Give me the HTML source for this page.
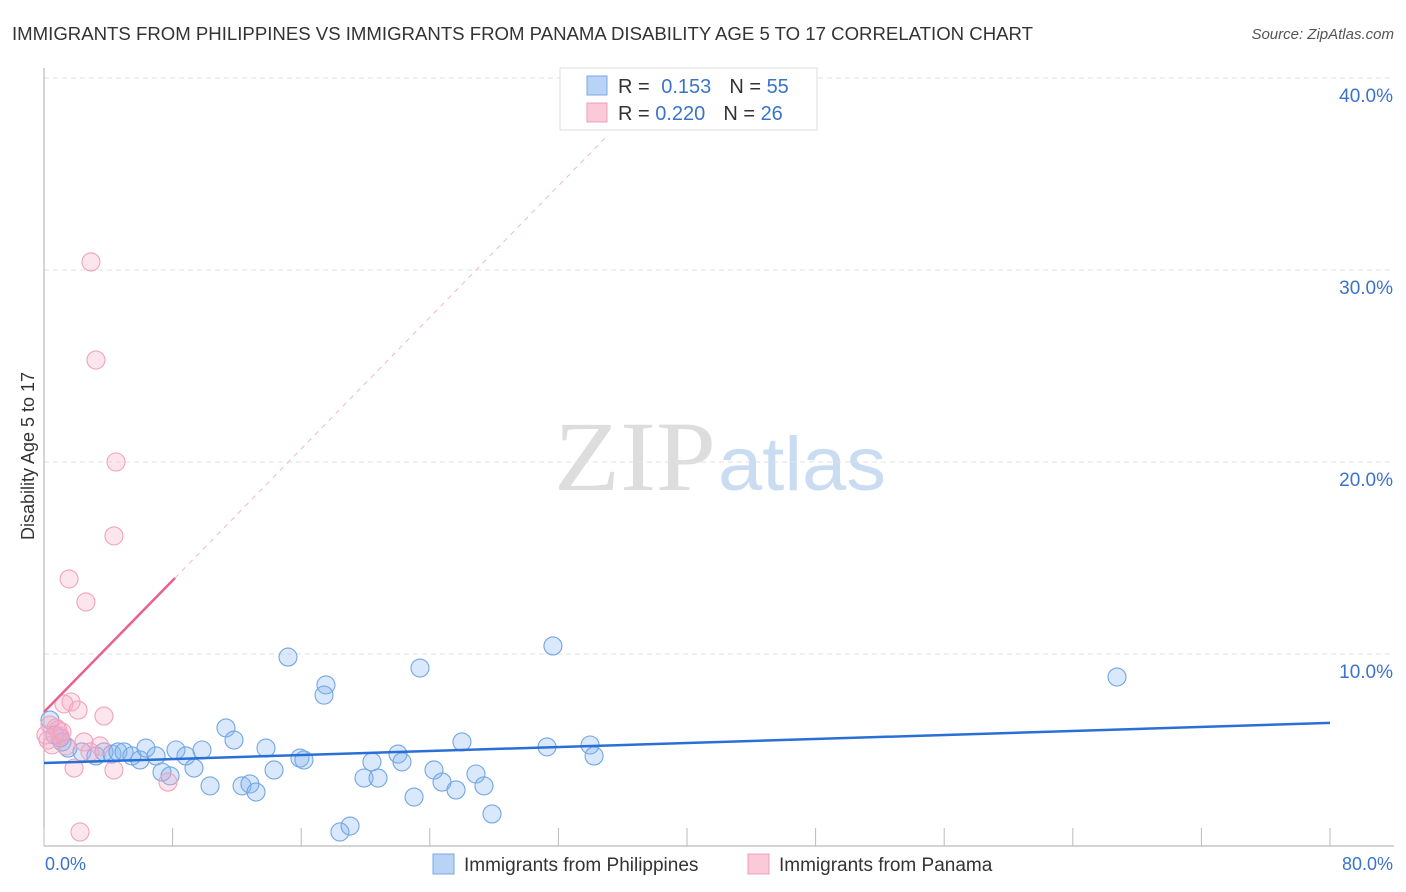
<!DOCTYPE html>
<html><head><meta charset="utf-8"><style>
body{margin:0;background:#fff;font-family:"Liberation Sans",sans-serif}
svg{display:block}
</style></head><body>
<svg width="1406" height="892" id="chart">
<text x="12" y="40" font-size="18" fill="#333" textLength="1021" lengthAdjust="spacingAndGlyphs">IMMIGRANTS FROM PHILIPPINES VS IMMIGRANTS FROM PANAMA DISABILITY AGE 5 TO 17 CORRELATION CHART</text>
<text x="1394" y="39" font-size="15" fill="#555" font-style="italic" text-anchor="end">Source: ZipAtlas.com</text>
<text x="716" y="490" font-size="100" fill="#ddd" font-family="Liberation Serif,serif" text-anchor="end" textLength="162" lengthAdjust="spacingAndGlyphs">ZIP</text>
<text x="718" y="490" font-size="76" fill="#c9dcf2" textLength="168" lengthAdjust="spacingAndGlyphs">atlas</text>
<text transform="translate(34,456) rotate(-90)" font-size="18" fill="#333" text-anchor="middle">Disability Age 5 to 17</text>
<g id="axes"></g>
<g id="marks"></g>
<g>
<rect x="560" y="68" width="257" height="62" fill="#fff" stroke="#ddd"/>
<rect x="587" y="76" width="20" height="19" fill="#b8d3f5" stroke="#7aa8e6"/>
<rect x="587" y="103" width="20" height="19" fill="#fbc9d8" stroke="#eda0b8"/>
<text x="618" y="93" font-size="20" fill="#333">R = <tspan fill="#3b73cc" dx="6">0.153</tspan><tspan dx="18" fill="#333">N = </tspan><tspan fill="#3b73cc">55</tspan></text>
<text x="618" y="120" font-size="20" fill="#333">R = <tspan fill="#3b73cc">0.220</tspan><tspan dx="18" fill="#333">N = </tspan><tspan fill="#3b73cc">26</tspan></text>
</g>
<g>
<rect x="433" y="854" width="21" height="20" fill="#b8d3f5" stroke="#7aa8e6"/>
<text x="464" y="871" font-size="19" fill="#333">Immigrants from Philippines</text>
<rect x="748" y="854" width="21" height="20" fill="#fbc9d8" stroke="#eda0b8"/>
<text x="779" y="871" font-size="19" fill="#333">Immigrants from Panama</text>
</g>
</svg>
<script>
const yTicks=[10,20,30,40];
const yTickLabels=["10.0%","20.0%","30.0%","40.0%"];
const xTickVals=[0,8,16,24,32,40,48,56,64,72,80];
const blueX=[0.37,0.68,1.12,1.49,2.36,3.23,3.73,4.23,4.6,4.98,5.47,5.97,6.34,6.97,7.34,7.84,8.21,8.83,9.33,9.83,10.33,11.32,11.82,12.32,12.81,13.19,13.81,14.31,15.18,15.92,16.17,17.54,17.42,18.41,19.04,19.91,20.4,20.78,22.02,22.27,23.02,23.39,24.26,24.76,25.63,26.0,26.87,27.37,27.87,31.29,31.66,33.97,34.22,66.75,1.0];
const blueY=[6.56,5.78,5.42,5.1,4.9,4.69,4.9,4.79,4.9,4.9,4.69,4.48,5.1,4.69,3.85,3.65,5.0,4.69,4.06,5.0,3.13,6.15,5.52,3.13,3.23,2.81,5.1,3.96,9.84,4.58,4.48,8.39,7.86,0.73,1.04,3.54,4.38,3.54,4.79,4.38,2.55,9.27,3.96,3.33,2.92,5.42,3.75,3.13,1.67,5.16,10.42,5.26,4.69,8.8,5.63];
const pinkX=[2.92,3.23,4.48,4.35,1.56,2.61,1.68,1.24,2.12,3.73,0.37,0.75,1.0,0.25,0.5,1.37,2.49,3.48,1.87,4.35,7.71,2.24,2.86,0.87,1.12,0.12];
const pinkY=[30.42,25.31,20.0,16.15,13.91,12.71,7.5,7.4,7.08,6.77,6.3,6.15,5.73,5.52,5.26,5.21,5.42,5.21,4.06,3.96,3.33,0.73,4.9,6.04,5.94,5.78];
const blueTrend=[4.32,6.41];
const pinkTrend=[6.98,13.96];
const pinkTrendEndX=8.15;
const pinkDashEndX=35;
const NS="http://www.w3.org/2000/svg";
const X=v=>44+v/80*1286;
const Y=v=>846-v*19.2;
function mk(tag,attrs,parent){const e=document.createElementNS(NS,tag);for(const k in attrs)e.setAttribute(k,attrs[k]);parent.appendChild(e);return e;}
const axes=document.getElementById('axes'),marks=document.getElementById('marks');
yTicks.forEach((t,i)=>{
 const g=mk('line',{x1:44,x2:1394,y1:Y(t),y2:Y(t),stroke:'#e2e2e2','stroke-dasharray':'5,4'},axes);
 
 
 const l=mk('text',{x:1393,y:Y(t)+24,'font-size':19,fill:'#3b73cc','text-anchor':'end'},axes);
 l.textContent=yTickLabels[i];
 
 
});
const ya=mk('line',{x1:44,x2:44,y1:68,y2:846,stroke:'#aaa'},axes);


const xa=mk('line',{x1:44,x2:1394,y1:846,y2:846,stroke:'#aaa'},axes);


xTickVals.forEach(t=>{
 const tk=mk('line',{x1:X(t),x2:X(t),y1:828,y2:846,stroke:'#bbb'},axes);
 
 
});
const x0=mk('text',{x:45,y:870,'font-size':18,fill:'#3b73cc'},axes);x0.textContent='0.0%';


const x1=mk('text',{x:1393,y:870,'font-size':18,fill:'#3b73cc','text-anchor':'end'},axes);x1.textContent='80.0%';


blueX.forEach((v,i)=>{
 const c=mk('circle',{cx:X(v),cy:Y(blueY[i]),r:9,fill:'rgba(130,178,238,0.3)',stroke:'#72a6e4','stroke-width':1.1},marks);
 
 
});
pinkX.forEach((v,i)=>{
 const c=mk('circle',{cx:X(v),cy:Y(pinkY[i]),r:9,fill:'rgba(248,170,198,0.3)',stroke:'#f0a3bb','stroke-width':1.1},marks);
 
 
});
const slope=(pinkTrend[1]-pinkTrend[0])/pinkTrendEndX;
const pd=mk('line',{x1:X(pinkTrendEndX),y1:Y(pinkTrend[1]),x2:X(pinkDashEndX),y2:Y(pinkTrend[0]+slope*pinkDashEndX),stroke:'#f0b8c8','stroke-dasharray':'5,5','stroke-width':1},marks);


const pl=mk('line',{x1:X(0),y1:Y(pinkTrend[0]),x2:X(pinkTrendEndX),y2:Y(pinkTrend[1]),stroke:'#e8628c','stroke-width':2.5},marks);


const bl=mk('line',{x1:X(0),y1:Y(blueTrend[0]),x2:X(80),y2:Y(blueTrend[1]),stroke:'#2a6fd6','stroke-width':2.5},marks);


</script>
</body></html>
